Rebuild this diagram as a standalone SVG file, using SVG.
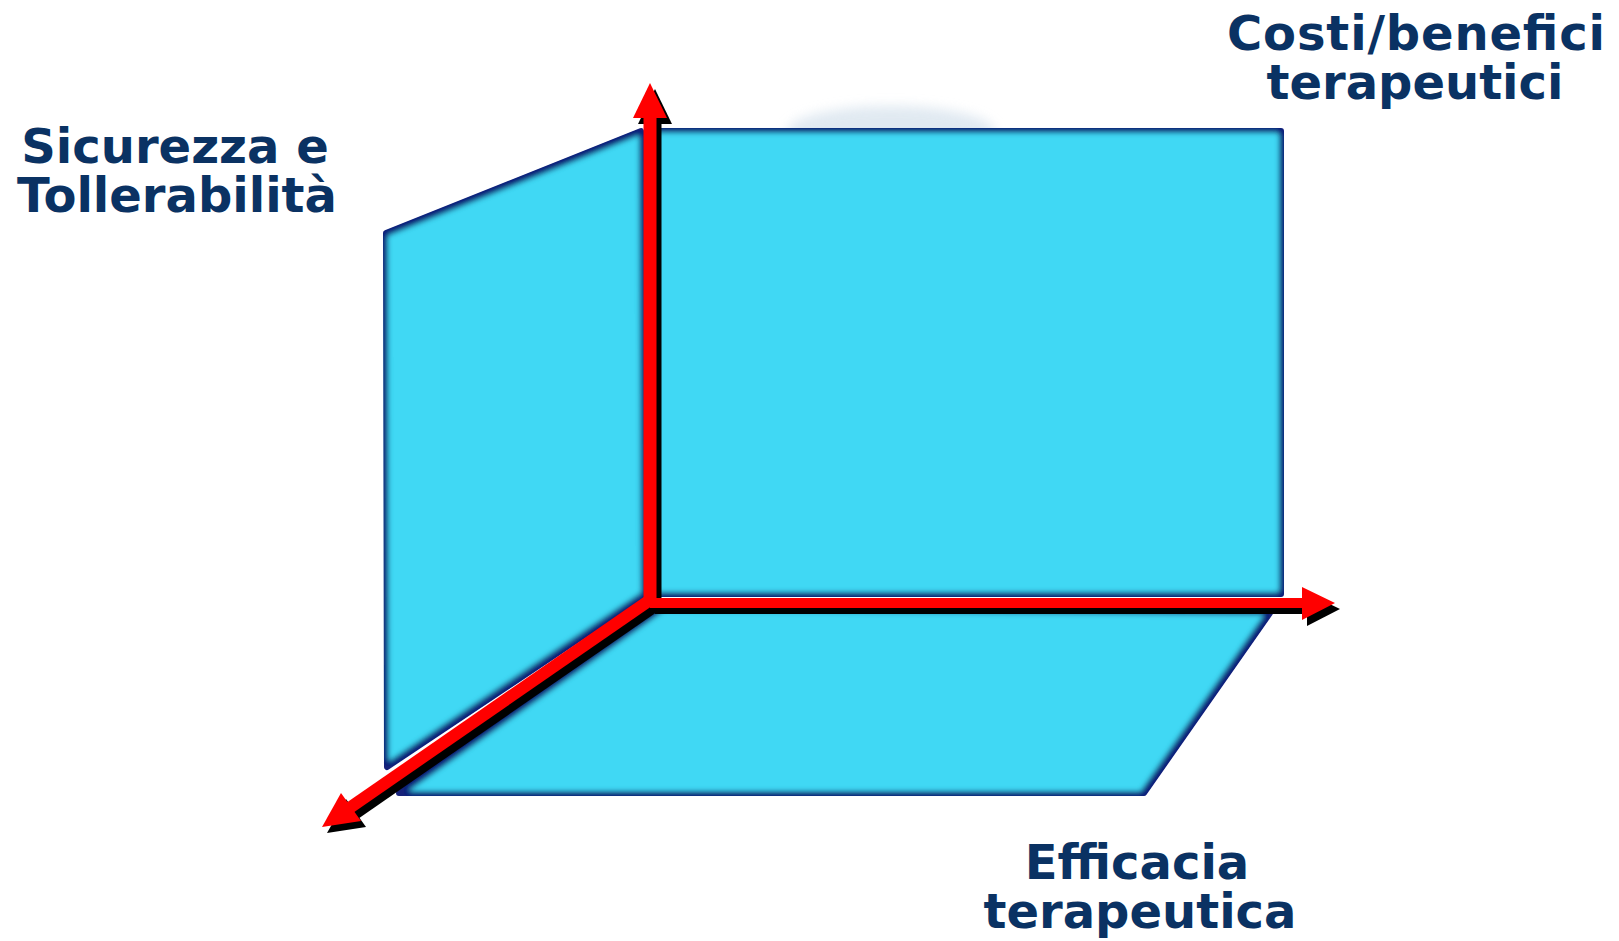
<svg xmlns="http://www.w3.org/2000/svg" width="1619" height="941" viewBox="0 0 1619 941">
  <defs>
    <filter id="panelFx" x="-5%" y="-5%" width="110%" height="110%">
      <feMorphology in="SourceAlpha" operator="erode" radius="5" result="e"/>
      <feGaussianBlur in="e" stdDeviation="2.4" result="b"/>
      <feFlood flood-color="#3fd8f4"/>
      <feComposite in2="b" operator="in" result="inner"/>
      <feFlood flood-color="#14207a"/>
      <feComposite in2="SourceAlpha" operator="in" result="outer0"/>
      <feGaussianBlur in="outer0" stdDeviation="0.6" result="outer"/>
      <feMerge>
        <feMergeNode in="outer"/>
        <feMergeNode in="inner"/>
      </feMerge>
    </filter>
    <filter id="haze" x="-30%" y="-60%" width="160%" height="220%">
      <feGaussianBlur stdDeviation="6"/>
    </filter>
    <style>
      .panel { fill: #000; stroke: #000; stroke-width: 6; stroke-linejoin: round; filter: url(#panelFx); }
      .lbl { font-family: "DejaVu Sans", Verdana, sans-serif; font-weight: bold; font-size: 48px; fill: #0a3263; text-anchor: middle; }
      .red { fill: #ff0000; }
      .redline { stroke: #ff0000; fill: none; }
      .shadow { fill: #000; }
      .shadowline { stroke: #000; fill: none; }
    </style>
  </defs>
  <rect width="1619" height="941" fill="#ffffff"/>

  <ellipse cx="891" cy="132" rx="104" ry="26" fill="#d9e4ee" opacity="0.8" filter="url(#haze)"/>

  <g id="panel-back">
    <polygon class="panel" points="652,131 1281,131 1281,594 652,594"/>
  </g>
  <g id="panel-left">
    <polygon class="panel" points="386,233 641,131 643,596 387,767"/>
  </g>
  <g id="panel-floor">
    <polygon class="panel" points="660,609 1270,613 1144,793 399,793"/>
  </g>

  <g id="axes">
    <g transform="translate(5,6)">
      <line class="shadowline" x1="650" y1="600" x2="650" y2="114" stroke-width="13"/>
      <polygon class="shadow" points="650,83 667,118 633,118"/>
      <line class="shadowline" x1="650" y1="603" x2="1305" y2="603" stroke-width="10"/>
      <polygon class="shadow" points="1335,603 1302,587 1302,620"/>
      <line class="shadowline" x1="650" y1="600" x2="348" y2="809" stroke-width="12"/>
      <polygon class="shadow" points="322,827 341,793 361,821"/>
    </g>
    <line class="redline" x1="650" y1="600" x2="650" y2="114" stroke-width="13"/>
    <polygon class="red" points="650,83 667,118 633,118"/>
    <line class="redline" x1="650" y1="603" x2="1305" y2="603" stroke-width="10"/>
    <polygon class="red" points="1335,603 1302,587 1302,620"/>
    <line class="redline" x1="650" y1="600" x2="348" y2="809" stroke-width="12"/>
    <polygon class="red" points="322,827 341,793 361,821"/>
  </g>

  <g id="label-costi">
    <text class="lbl" x="1416" y="50" textLength="378" lengthAdjust="spacing">Costi/benefici</text>
    <text class="lbl" x="1415" y="99">terapeutici</text>
  </g>
  <g id="label-sicurezza">
    <text class="lbl" x="175" y="163">Sicurezza e</text>
    <text class="lbl" x="177" y="212">Tollerabilità</text>
  </g>
  <g id="label-efficacia">
    <text class="lbl" x="1137" y="879">Efficacia</text>
    <text class="lbl" x="1140" y="928">terapeutica</text>
  </g>
</svg>
